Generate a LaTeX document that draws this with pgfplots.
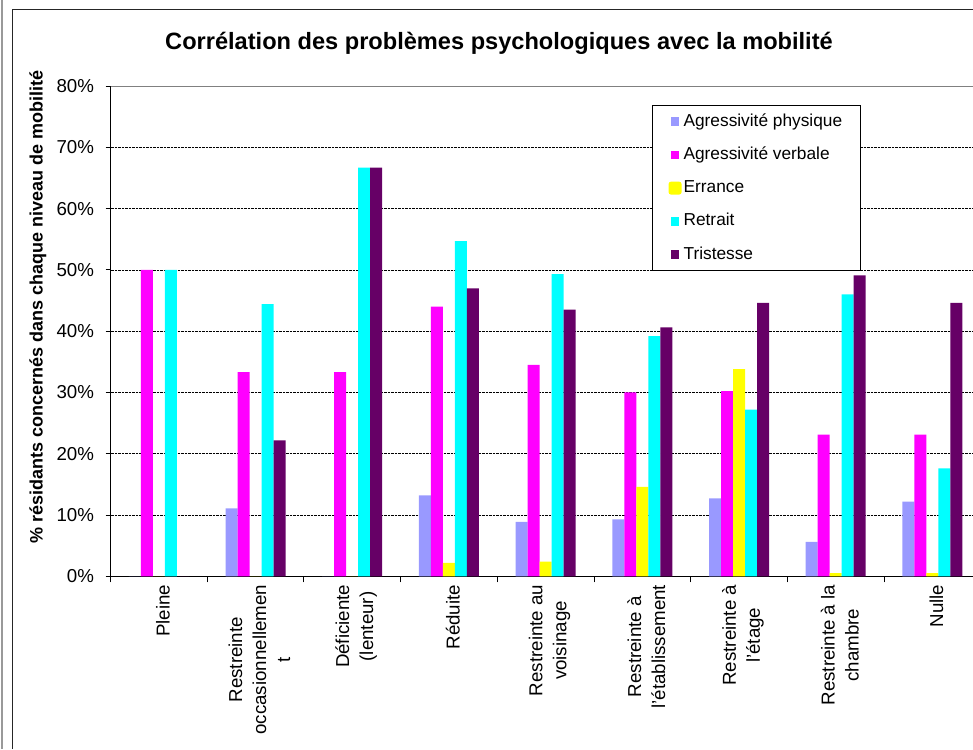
\documentclass[border=0pt]{standalone}
\usepackage{fontspec}
\setmainfont{Liberation Sans}
\usepackage{pgfplots}
\pgfplotsset{compat=1.18}
\usepackage{pgfplotstable}
\definecolor{cphys}{HTML}{9999FF}
\definecolor{cverb}{HTML}{FF00FF}
\definecolor{cerr}{HTML}{FFFF00}
\definecolor{cret}{HTML}{00FFFF}
\definecolor{ctri}{HTML}{660066}
\pgfplotstableread{
x phys verb err ret trist
0 0    50.0 0    50.0 0
1 11.1 33.3 0    44.4 22.2
2 0    33.3 0    66.7 66.7
3 13.2 44.0 2.2  54.7 47.0
4 8.9  34.5 2.4  49.3 43.5
5 9.3  30.0 14.6 39.2 40.6
6 12.7 30.2 33.8 27.2 44.6
7 5.6  23.1 0.5  46.0 49.1
8 12.2 23.1 0.5  17.6 44.6
}\datatable
\begin{document}
\begin{tikzpicture}
\useasboundingbox (0pt,0pt) rectangle (973pt,-749pt);
\draw[gray!80, line width=1.2pt] (2pt,0pt) -- (2pt,-749pt);
\draw[black!85, line width=1pt] (12.7pt,-749pt) -- (12.7pt,-9.5pt) -- (973pt,-9.5pt);
\node[font=\bfseries\fontsize{23.6}{27}\selectfont] at (499pt,-43pt) {Corrélation des problèmes psychologiques avec la mobilité};
\node[rotate=90, font=\bfseries\fontsize{18}{21}\selectfont] at (38pt,-307pt) {\% résidants concernés dans chaque niveau de mobilité};
\begin{axis}[
  at={(110.5pt,-576.3pt)}, anchor=south west,
  scale only axis, width=862.5pt, height=490.3pt,
  xmin=-0.5, xmax=8.42, ymin=0, ymax=80,
  ybar=0pt, bar width=12pt,
  axis x line*=bottom, axis y line*=left,
  axis line style={black, line width=1pt},
  tick align=outside,
  xtick={0,...,8},
  xticklabels={Pleine,{Restreinte\\occasionnellemen\\t},{Déficiente\\(lenteur)},Réduite,{Restreinte au\\voisinage},{Restreinte à\\l'établissement},{Restreinte à\\l'étage},{Restreinte à la\\chambre},Nulle},
  major x tick style={draw=none},
  minor xtick={-0.5,0.5,...,7.5},
  minor x tick style={black, line width=0.8pt},
  minor tick length=6pt,
  ytick={0,10,...,80},
  major tick length=5pt,
  y tick style={black, line width=0.8pt},
  yticklabel={\pgfmathprintnumber{\tick}\%},
  /pgf/number format/assume math mode=true,
  ticklabel style={font=\fontsize{18.7}{24}\selectfont},
  yticklabel style={xshift=-8pt},
  xticklabel style={rotate=90, anchor=east, align=center, yshift=-4pt},
  ymajorgrids,
  major grid style={black, densely dotted, line width=0.6pt},
  legend style={at={(0.628,0.961)}, anchor=north west, draw=black, line width=0.8pt, fill=white,
    font=\fontsize{17.3}{20}\selectfont, inner xsep=16pt, inner ysep=5.5pt, row sep=12.3pt,
    nodes={inner sep=2pt, text height=13pt, text depth=4pt}},
  legend cell align=left,
]
\addplot[fill=cphys, draw=none, legend image code/.code={\fill[cphys] (0pt,-4.3pt) rectangle (8.6pt,4.3pt);}] table[x=x,y=phys] {\datatable};
\addplot[fill=cverb, draw=none, legend image code/.code={\fill[cverb] (0pt,-4.3pt) rectangle (8.6pt,4.3pt);}] table[x=x,y=verb] {\datatable};
\addplot[fill=cerr, draw=none, legend image code/.code={\fill[cerr, rounded corners=2.5pt] (-2pt,-6.5pt) rectangle (11pt,6.5pt);}] table[x=x,y=err] {\datatable};
\addplot[fill=cret, draw=none, legend image code/.code={\fill[cret] (0pt,-4.3pt) rectangle (8.6pt,4.3pt);}] table[x=x,y=ret] {\datatable};
\addplot[fill=ctri, draw=none, legend image code/.code={\fill[ctri] (0pt,-4.3pt) rectangle (8.6pt,4.3pt);}] table[x=x,y=trist] {\datatable};
\legend{Agressivité physique, Agressivité verbale, Errance, Retrait, Tristesse}
\draw[gray, line width=1pt] (rel axis cs:0,1) -- (rel axis cs:1,1);
\end{axis}
\end{tikzpicture}
\end{document}
